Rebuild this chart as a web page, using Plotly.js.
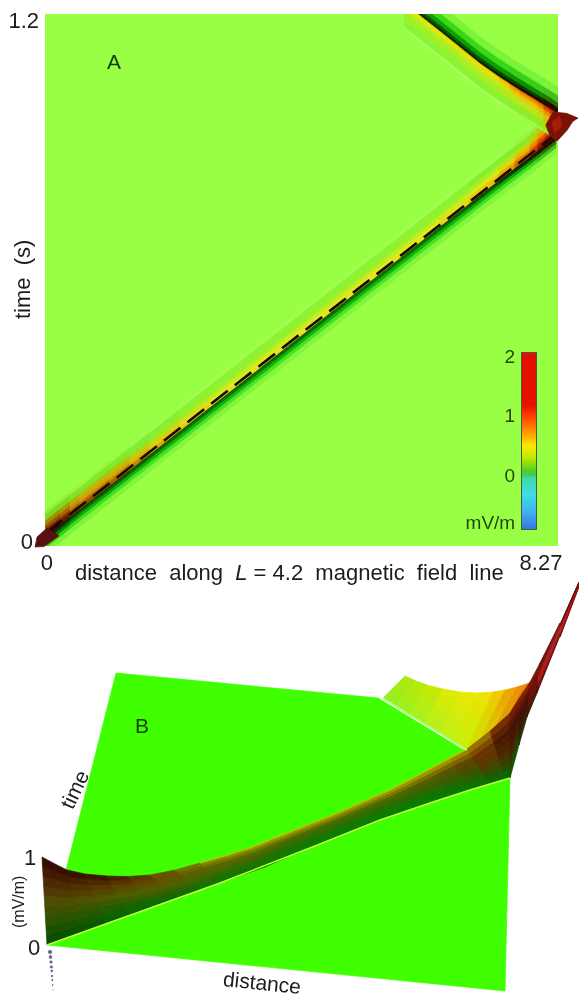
<!DOCTYPE html>
<html><head><meta charset="utf-8">
<script src="https://cdn.plot.ly/plotly-3.0.1.min.js"></script>
<style>html,body{margin:0;padding:0;background:#fff}#chart{width:579px;height:998px;filter:blur(0.6px)}</style>
</head><body><div id="chart"></div>
<script>
// ---------- Panel A : field in the distance / time plane ----------
const xTickVals=[0,8.27], xTickText=['0','8.27'];
const yTickVals=[0,1.2], yTickText=['0\u00a0','1.2'];
// outgoing ridge (dashed line follows it)
const mainDistance=[-0.18,-0.03,0.22,0.55,1.05,1.72,2.73,6.58,7.58,8.09,8.34,8.52];
const mainTime=[-0.002,0.014,0.041,0.077,0.131,0.203,0.312,0.728,0.836,0.889,0.917,0.936];
const mainBandEdges=[0.055,0.046,0.032,0.021,0.0115,0.0046,-0.0051,-0.0092,-0.015,-0.023,-0.0322,-0.0438];
const mainPalO=["#90f038","#7cd820","#a09000","#a05000","#701800","#400a00","#200a00","#004000","#008000","#30d010","#80f038"];
const mainPalA=["#98f840","#80e828","#b0c010","#d8a000","#c07000","#905000","#203000","#006800","#10a808","#40e020","#80f23a"];
const mainPalB=["#a0fa50","#7ff038","#98e820","#d0d010","#e8c000","#d09800","#204000","#007000","#14b008","#48e424","#84f43c"];
const mainPalM=["#a4fc50","#8cf434","#98f02c","#bcee22","#e4e81c","#e8e020","#1a5000","#007800","#14b408","#48e424","#84f43c"];
const mainPalC=["#a4fc50","#80f030","#a8f020","#e0e818","#f0c000","#e8b000","#0c2400","#005000","#10a808","#40e020","#84f43c"];
const mainPalD=["#98f048","#90e820","#d0d000","#f0a000","#e86000","#c84800","#200800","#003800","#10a000","#40e020","#84f43c"];
const mainPalE=["#90e838","#d0c000","#f09000","#e04000","#b01000","#700800","#300000","#300500","#2a7000","#40c020","#84f43c"];
const mainStationPal=[mainPalO,mainPalO,mainPalO,mainPalA,mainPalA,mainPalB,mainPalM,mainPalM,mainPalC,mainPalD,mainPalE,mainPalE];
// reflected ridge
const reflDistance=[5.99,6.58,7.25,7.58,7.92,8.22,8.42,8.62];
const reflTime=[1.239,1.175,1.101,1.069,1.039,1.014,0.997,0.979];
const reflBandEdges=[-0.0622,-0.0553,-0.0368,-0.0207,-0.0115,-0.0046,0,0.0069,0.0138,0.0253,0.0415,0.06];
const reflPalA=["#a8fc60","#8cf434","#a0f028","#b8ee1c","#e0ea10","#e8e000","#0c2c00","#006000","#10a000","#38d818","#7cf238"];
const reflPalB=["#a8fc60","#8af230","#a8ee22","#c8ea18","#ecdf08","#f0d000","#0c2000","#005800","#109c00","#38d818","#7cf238"];
const reflPalC=["#a0f850","#90ec28","#c0e418","#e8c808","#f0a000","#e87000","#200800","#004400","#108c00","#38d018","#7cf238"];
const reflPalD=["#90ec38","#c0d800","#e8b000","#e88000","#e04000","#c02000","#300400","#200800","#2a7000","#40c018","#7cf238"];
const reflStationPal=[reflPalA,reflPalA,reflPalB,reflPalB,reflPalC,reflPalC,reflPalD,reflPalD];
const dashDistance=[-0.02,8.5], dashTime=[0.018,0.935];
const originTipD=[0,-0.167,-0.2,-0.05,0.2], originTipT=[0.03,0.009,-0.0138,-0.0127,0.012];
const apexTipD=[8.47,8.7,8.89,8.8,8.71,8.54,8.42,8.35], apexTipT=[0.988,0.985,0.974,0.966,0.9466,0.921,0.933,0.958];
const apexCoreD=[8.45,8.58,8.62,8.5], apexCoreT=[0.965,0.978,0.955,0.94];
// colour bar
const barLevels=[2,1.6,1.2,1,0.75,0.5,0.3,0.1,0,-0.2,-0.4,-0.6,-0.9];
const barColorscale=[[0,'#3878e0'],[0.1,'#40b0f0'],[0.2,'#40dce8'],[0.3,'#40d8a0'],[0.31,'#40cc60'],[0.34,'#50d020'],[0.41,'#c0e800'],[0.48,'#ffe800'],[0.565,'#ff9000'],[0.65,'#ff4000'],[0.72,'#e81000'],[1,'#e01000']];
// ---------- Panel B : oblique view, projected page coordinates ----------
const planeX=[116,378,510,505,47], planeY=[673,698,778,991,945];
const wedgeTopX=[42,55,67,85,107,128,150,175,200,225,250,275,300,335,367,390,413,432,450,467,490,510,520,530,540,560,579];
const wedgeTopY=[857,864,870,874,876,876.5,875,870,863,856,848,838,828,814,800,790,778,768,758,749,731,713,697,682,663,623,582];
const wedgeLowX=[47,66,85,107,130,155,180,200,220,242,265,290,315,348,380,405,430,450,470,490,505,510,519,527,537,560,579];
const wedgeLowY=[945,938,931,923,915,906,897,890,883,875,867,856,846,833,820,811,803,796,790,784,779,778,745,717,693,637,587];
const wedgePalPos=[0,0.5,1,1.5,2,2.5,3,3.5,4,4.5,5,5.5,6,6.5,7,7.5,8,8.5,9,9.5,10.5,11,11.5,12,13,14,15];
const wedgePal=[
 ['#004c00','#2a5200','#4d4a05','#4a2205','#300505'],
 ['#005400','#285400','#4f4c00','#502800','#340800'],
 ['#006a00','#1f6000','#4f5a00','#5c3a00','#3a0f00'],
 ['#007000','#286200','#565c00','#644a00','#5a4000'],
 ['#007a00','#246c00','#466600','#5e6200','#8a8a00'],
 ['#007c00','#167400','#386800','#5a6600','#a0a000'],
 ['#008000','#0e7800','#2c6c00','#546800','#a8a800'],
 ['#008000','#0e7800','#2c6c00','#546800','#a8a800'],
 ['#008000','#107400','#346400','#5a6000','#aca400'],
 ['#007c00','#1c6800','#405400','#604c00','#b0a000'],
 ['#007000','#2f5000','#5a3800','#6a3000','#a08000'],
 ['#007000','#304000','#4a1c00','#3a0f00','#801c00'],
 ['#1a2a00','#3a1000','#350800','#5a1000','#a02008'],
 ['#300505','#7a1008','#a01010','#701008','#600c08'],
 ['#300505','#a01010','#d81818','#901010','#400808'],
 ['#300505','#a01010','#c81818','#801010','#400808']];
const reflSurfTopX=[405,416,427,443,460,477,493,505,517,525,532];
const reflSurfTopY=[676,681,685,689,692,693,692,690,687,684.5,682];
const reflSurfLowX=[383,396,410,425,440,453,467,480,495,510,530];
const reflSurfLowY=[698,706,715,724,733,742,750,740,727,713,682];
const reflSurfPalPos=[0,0.5,1,1.5,2,2.5,3,3.6,4,4.5,5];
const reflSurfPal=[['#90f020','#a8e810'],['#a0f020','#c0e800'],['#b8f020','#e8ec00'],['#c8f000','#f0e000'],['#e0c000','#f09000'],['#c05000','#f08000']];
const ridgeLineX=[47,130,220,315,380,430,470,510], ridgeLineY=[945,915,883,846,820,803,790,778];
const foldLineX=[383,410,440,467], foldLineY=[698,715,733,750];
const crestX=[200,225,250,275,300,335,367,390,413,432,450,467], crestY=[863,856,848,838,828,814,800,790,778,768,758,749];
const dotX=[50,50.5,51,51.3,51.7,52,52.3,52.7,53], dotY=[952,957,962,967,971,976,980,985,990];
const dotSize=[5,4.6,4.2,4,3.6,3.2,3,2.6,2.2];

// ---------- helpers ----------
const rgb=h=>[1,3,5].map(i=>parseInt(h.substr(i,2),16));
const mixA=(a,b,f)=>a.map((v,i)=>v+(b[i]-v)*f);
const css=c=>'rgb('+c.map(Math.round).join(',')+')';
const mix=(a,b,f)=>css(mixA(rgb(a),rgb(b),f));
const traces=[];
function poly(x,y,color,xa,ya){traces.push({type:'scatter',mode:'lines',x:x.concat(x[0]),y:y.concat(y[0]),fill:'toself',fillcolor:color,line:{color:color,width:0.7},xaxis:xa,yaxis:ya,hoverinfo:'skip',showlegend:false});}
function ridge(D,T,edges,pals,sub){
 for(let i=0;i<D.length-1;i++){
  const n=pals[i]===pals[i+1]?1:sub;
  for(let s=0;s<n;s++){
   const f0=s/n,f1=(s+1)/n,fc=(s+.5)/n;
   const d0=D[i]+(D[i+1]-D[i])*f0,d1=D[i]+(D[i+1]-D[i])*f1,t0=T[i]+(T[i+1]-T[i])*f0,t1=T[i]+(T[i+1]-T[i])*f1;
   for(let b=0;b<edges.length-1;b++){
    poly([d0,d1,d1,d0],[t0+edges[b],t1+edges[b],t1+edges[b+1],t0+edges[b+1]],mix(pals[i][b],pals[i+1][b],fc),'x','y');
   }
  }
 }
}
function palAt(pal,pos,across){
 const m=pal[0].length-1,p=across*m,q=Math.min(Math.floor(p),m-1),r=p-q;
 const i=Math.min(Math.floor(pos),pal.length-2),u=pos-i;
 return mixA(mixA(rgb(pal[i][q]),rgb(pal[i][q+1]),r),mixA(rgb(pal[i+1][q]),rgb(pal[i+1][q+1]),r),u);
}
function surf(tx,ty,lx,ly,pal,palPos,nAcross){
 const L=(A,B,f)=>A+(B-A)*f;
 for(let i=0;i<tx.length-1;i++){
  const pos=(palPos[i]+palPos[i+1])/2;
  for(let k=0;k<nAcross;k++){
   const a=k/nAcross,b=(k+1)/nAcross;
   poly([L(lx[i],tx[i],a),L(lx[i+1],tx[i+1],a),L(lx[i+1],tx[i+1],b),L(lx[i],tx[i],b)],
        [L(ly[i],ty[i],a),L(ly[i+1],ty[i+1],a),L(ly[i+1],ty[i+1],b),L(ly[i],ty[i],b)],css(palAt(pal,pos,(k+.5)/nAcross)),'x2','y2');
  }
 }
}
const plain=(x,y,color,width,xa,ya)=>traces.push({type:'scatter',mode:'lines',x,y,line:{color,width},xaxis:xa,yaxis:ya,hoverinfo:'skip',showlegend:false});
// panel A
ridge(mainDistance,mainTime,mainBandEdges,mainStationPal,2);
ridge(reflDistance,reflTime,reflBandEdges,reflStationPal,2);
traces.push({type:'scatter',mode:'lines',x:dashDistance,y:dashTime,line:{color:'#0c0c08',width:2.6,dash:'21px,9px'},xaxis:'x',yaxis:'y',hoverinfo:'skip',showlegend:false});
// tips that run past the plot frame share panel A's scale on a page-wide overlay
poly(originTipD,originTipT,'#5a1010','x4','y4');
poly(apexTipD,apexTipT,'#7a1208','x4','y4');
poly(apexCoreD,apexCoreT,'#a81c08','x4','y4');
// colour bar
traces.push({type:'heatmap',x:[0,1],y:barLevels,z:barLevels.map(v=>[v,v]),zmin:-0.9,zmax:2,colorscale:barColorscale,showscale:false,zsmooth:'best',xaxis:'x3',yaxis:'y3',hoverinfo:'skip'});
// panel B
poly(planeX,planeY,'#40ff00','x2','y2');
surf(reflSurfTopX,reflSurfTopY,reflSurfLowX,reflSurfLowY,reflSurfPal,reflSurfPalPos,8);
surf(wedgeTopX,wedgeTopY,wedgeLowX,wedgeLowY,wedgePal,wedgePalPos,9);
plain(ridgeLineX,ridgeLineY,'#c8ff40',1.4,'x2','y2');
plain(crestX,crestY,'#c8c800',1.2,'x2','y2');
plain(foldLineX,foldLineY,'#a8ff70',2,'x2','y2');
traces.push({type:'scatter',mode:'markers',x:dotX,y:dotY,marker:{color:'#22225e',size:dotSize},xaxis:'x2',yaxis:'y2',hoverinfo:'skip',showlegend:false,cliponaxis:false});

const F='"Liberation Sans",Arial,sans-serif', INK='#1c1c1c';
const W=579,H=998;
const note=(xref,yref,x,y,text,size,color,angle)=>({xref,yref,x,y,text,showarrow:false,xanchor:'center',yanchor:'middle',textangle:angle||0,font:{size,color:color||INK}});
const layout={width:W,height:H,margin:{l:0,r:0,t:0,b:0,pad:0},autosize:false,showlegend:false,
 paper_bgcolor:'#fff',plot_bgcolor:'rgba(0,0,0,0)',font:{family:F,size:19,color:INK},
 xaxis:{domain:[45/W,558/W],range:[-0.033,8.555],tickvals:xTickVals,ticktext:xTickText,ticklen:0,showgrid:false,zeroline:false,showline:false,ticklabelstandoff:1,tickfont:{size:22,color:INK}},
 yaxis:{domain:[1-546/H,1-14/H],range:[-0.0115,1.2137],tickvals:yTickVals,ticktext:yTickText,ticklen:0,showgrid:false,zeroline:false,showline:false,ticklabelstandoff:5,tickfont:{size:22,color:INK}},
 xaxis2:{domain:[0,1],range:[0,579],visible:false,anchor:'y2'},
 yaxis2:{domain:[0,1-575/H],range:[998,575],visible:false,anchor:'x2'},
 xaxis3:{domain:[522/W,536/W],range:[0,1],anchor:'y3',showticklabels:false,ticklen:0,showgrid:false,zeroline:false,showline:true,mirror:true,linecolor:'#4a5a40',linewidth:1},
 yaxis3:{domain:[1-529/H,1-353/H],range:[-0.91,2.05],anchor:'x3',tickvals:[-0.8,0,1,2],ticktext:['mV/m','0','1','2'],ticklen:0,ticklabelstandoff:2,showgrid:false,zeroline:false,showline:true,mirror:true,linecolor:'#4a5a40',linewidth:1,tickfont:{size:19,color:'#1e4a08'}},
 xaxis4:{domain:[0,1],range:[-0.787,8.906],visible:false,anchor:'y4'},
 yaxis4:{domain:[0,1],range:[-1.0525,1.246],visible:false,anchor:'x4'},
 shapes:[{type:'rect',layer:'below',xref:'x',yref:'y',x0:-0.033,x1:8.555,y0:-0.0115,y1:1.2137,fillcolor:'#99ff44',line:{width:0}}],
 annotations:[
  note('paper','paper',22/W,1-280/H,'time\u00a0 (s)',22,INK,-90),
  note('paper','paper',289/W,1-572/H,'distance\u00a0 along\u00a0 <i>L</i> = 4.2\u00a0 magnetic\u00a0 field\u00a0 line',22),
  note('paper','paper',114/W,1-62/H,'A',21,'#143c08'),
  note('x2','y2',142,725,'B',21,'#143c08'),
  note('x2','y2',74,789,'time',21,INK,-65),
  note('x2','y2',262,982,'distance',21,INK,6),
  note('x2','y2',18,902,'(mV/m)',16,INK,-90),
  note('x2','y2',30,857,'1',22),
  note('x2','y2',34,947,'0',22)
 ]};
Plotly.newPlot('chart',traces,layout,{displayModeBar:false,staticPlot:true});
</script></body></html>
